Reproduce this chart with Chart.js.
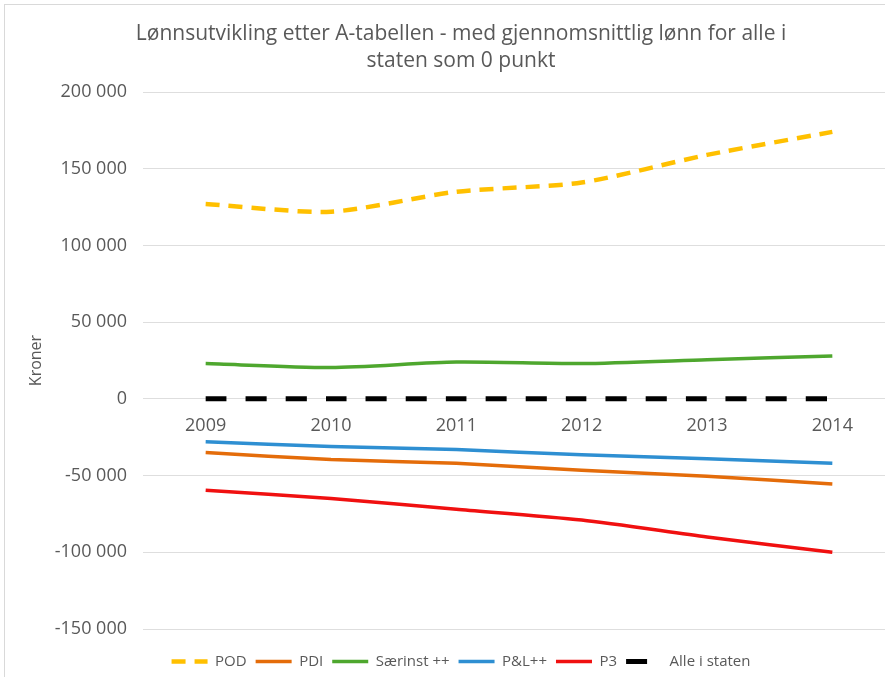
<!DOCTYPE html>
<html>
<head>
<meta charset="utf-8">
<script src="https://cdn.jsdelivr.net/npm/chart.js@4"></script>
<style>
  html, body { margin: 0; padding: 0; background: #fff; overflow: hidden; }
  body { width: 885px; height: 677px; position: relative; }
  #wrap { position: absolute; left: 4px; top: 4px; width: 906px; height: 680px;
          border-left: 1px solid #d9d9d9; border-top: 1px solid #d9d9d9; box-sizing: border-box; }
</style>
</head>
<body>
<div id="wrap"><canvas id="chart"></canvas></div>
<script>
const years = ["2009", "2010", "2011", "2012", "2013", "2014"];
const pod = [127000, 122000, 135000, 141000, 159000, 174000];
const pdi = [-35000, -39500, -42000, -46500, -50500, -55500];
const saerinst = [23000, 20500, 24000, 23000, 25500, 28000];
const pl = [-28000, -31000, -33000, -36500, -39000, -42000];
const p3 = [-59500, -65000, -72000, -79000, -90000, -100000];
const alle = [0, 0, 0, 0, 0, 0];

const FONT = "'Open Sans', 'Noto Sans', sans-serif";
const GREY = "#595959";

function kr(v) {
    const s = String(Math.abs(v)).replace(/\B(?=(\d{3})+(?!\d))/g, " ");
    return (v < 0 ? "-" : "") + s;
}

function line(label, values, color, width, dash) {
    return {
        label: label,
        data: values,
        borderColor: color,
        backgroundColor: color,
        borderWidth: width,
        borderDash: dash || [],
        borderCapStyle: "butt",
        pointRadius: 0,
        pointHoverRadius: 0,
        tension: 0.25,
        fill: false
    };
}

const data = {
    labels: years,
    datasets: [
        line("POD", pod, "#FFC000", 4.5, [14, 9]),
        line("PDI", pdi, "#E46C0A", 3.5),
        line("Særinst ++", saerinst, "#4EA72E", 3.5),
        line("P&L++", pl, "#2E8FD2", 3.5),
        line("P3", p3, "#F01010", 3.5),
        line("Alle i staten", alle, "#000000", 5, [21, 19])
    ]
};

// legend symbols take dash and width from the dataset line
function legendLabels(chart) {
    const items = Chart.defaults.plugins.legend.labels.generateLabels(chart);
    return items.map(item => {
        const ds = chart.data.datasets[item.datasetIndex];
        item.lineDash = ds.borderDash;
        item.lineWidth = ds.borderWidth;
        item.strokeStyle = ds.borderColor;
        item.fillStyle = ds.borderColor;
        return item;
    });
}

const config = {
    type: "line",
    data: data,
    options: {
        responsive: true,
        maintainAspectRatio: false,
        animation: false,
        layout: { padding: { top: 8, left: 22, right: 15, bottom: 5 } },
        plugins: {
            title: {
                display: true,
                text: ["Lønnsutvikling etter A-tabellen - med gjennomsnittlig lønn for alle i",
                       "staten som 0 punkt"],
                color: GREY,
                font: { family: FONT, size: 21, weight: "normal", lineHeight: 1.286 },
                padding: { top: 8, bottom: 17 }
            },
            legend: {
                position: "bottom",
                title: { display: true, text: "", font: { size: 10 }, padding: 2 },
                labels: {
                    color: GREY,
                    font: { family: FONT, size: 15 },
                    usePointStyle: true,
                    pointStyle: "line",
                    pointStyleWidth: 36,
                    boxWidth: 36,
                    padding: 9,
                    generateLabels: legendLabels
                }
            },
            tooltip: { enabled: false }
        },
        scales: {
            x: {
                position: { y: 0 },
                offset: true,
                grid: { display: false },
                border: { display: false },
                ticks: { color: GREY, font: { family: FONT, size: 18 }, padding: 8 }
            },
            y: {
                min: -150000,
                max: 200000,
                afterFit: (s) => { s.width = 116; },
                ticks: {
                    stepSize: 50000,
                    color: GREY,
                    font: { family: FONT, size: 18 },
                    padding: 16,
                    callback: (v) => kr(v)
                },
                grid: { color: "#dedede", lineWidth: 1, drawTicks: false },
                border: { display: false },
                title: {
                    display: true,
                    text: "Kroner",
                    color: GREY,
                    font: { family: FONT, size: 16 },
                    padding: { top: 0, bottom: 8 }
                }
            }
        }
    }
};

// wait for the font so label widths are measured right
Promise.all([
    document.fonts.load("18px 'Open Sans'"),
    document.fonts.load("21px 'Open Sans'")
]).catch(() => {}).then(() => {
    const myChart = new Chart("chart", config);
});
</script>
</body>
</html>
